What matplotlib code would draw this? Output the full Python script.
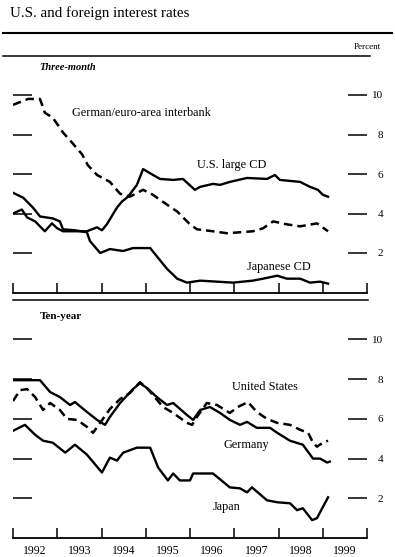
import numpy as np
import matplotlib
matplotlib.use('Agg')
import matplotlib.pyplot as plt
from matplotlib.lines import Line2D

plt.rcParams['font.family'] = ['Liberation Serif', 'DejaVu Serif']

# Three-month rates (decimal year, percent)
us_cd_t = [1992.0, 1992.2, 1992.32, 1992.5, 1992.72, 1992.88, 1993.0, 1993.13, 1993.51, 1993.67,
           1993.9, 1994.01, 1994.12, 1994.35, 1994.46, 1994.6, 1994.8, 1994.94, 1995.05, 1995.32,
           1995.62, 1995.84, 1996.11, 1996.23, 1996.52, 1996.68, 1996.9, 1997.29, 1997.74, 1997.92,
           1998.03, 1998.49, 1998.71, 1998.89, 1999.0, 1999.12]
us_cd_v = [4.0, 4.2, 3.8, 3.6, 3.1, 3.5, 3.25, 3.1, 3.1, 3.1,
           3.3, 3.15, 3.45, 4.3, 4.6, 4.85, 5.45, 6.25, 6.1, 5.75,
           5.7, 5.75, 5.2, 5.35, 5.5, 5.45, 5.6, 5.8, 5.75, 5.95,
           5.7, 5.6, 5.35, 5.2, 4.95, 4.85]

de_ib_t = [1992.0, 1992.34, 1992.61, 1992.72, 1992.9, 1993.13, 1993.33, 1993.56, 1993.69, 1993.9,
           1994.19, 1994.42, 1994.64, 1994.94, 1995.16, 1995.48, 1995.71, 1996.0, 1996.16, 1996.52,
           1996.84, 1997.42, 1997.65, 1997.88, 1998.19, 1998.49, 1998.87, 1999.12]
de_ib_v = [9.5, 9.8, 9.8, 9.1, 8.85, 8.1, 7.6, 7.0, 6.45, 5.95,
           5.6, 5.0, 4.85, 5.2, 4.95, 4.45, 4.1, 3.45, 3.2, 3.1,
           3.0, 3.1, 3.25, 3.6, 3.45, 3.35, 3.5, 3.1]

jp_cd_t = [1992.0, 1992.23, 1992.45, 1992.61, 1992.9, 1993.06, 1993.13, 1993.4, 1993.67, 1993.74,
           1993.97, 1994.19, 1994.49, 1994.71, 1995.1, 1995.28, 1995.48, 1995.71, 1995.93, 1996.23,
           1996.97, 1997.42, 1997.65, 1997.97, 1998.19, 1998.49, 1998.71, 1998.94, 1999.12]
jp_cd_v = [5.05, 4.8, 4.3, 3.85, 3.75, 3.6, 3.2, 3.15, 3.05, 2.6,
           2.0, 2.2, 2.1, 2.25, 2.25, 1.75, 1.2, 0.7, 0.5, 0.6,
           0.5, 0.6, 0.7, 0.85, 0.7, 0.7, 0.5, 0.55, 0.45]

# Ten-year rates
us_10_t = [1992.0, 1992.16, 1992.32, 1992.5, 1992.68, 1992.84, 1993.06, 1993.22, 1993.45, 1993.67,
           1993.81, 1994.19, 1994.42, 1994.64, 1994.87, 1995.03, 1995.39, 1995.62, 1995.93, 1996.05,
           1996.11, 1996.38, 1996.61, 1996.9, 1997.08, 1997.31, 1997.51, 1997.74, 1997.97, 1998.26,
           1998.49, 1998.67, 1998.78, 1998.87, 1999.0, 1999.12]
us_10_v = [6.9, 7.45, 7.5, 7.1, 6.45, 6.8, 6.45, 6.0, 5.95, 5.6,
           5.3, 6.5, 7.0, 7.3, 7.85, 7.55, 6.6, 6.3, 5.8, 5.7,
           5.95, 6.8, 6.7, 6.3, 6.6, 6.85, 6.35, 6.0, 5.8, 5.7,
           5.45, 5.3, 4.8, 4.6, 4.8, 4.9]

de_10_t = [1992.0, 1992.61, 1992.84, 1993.06, 1993.29, 1993.4, 1993.67, 1993.9, 1994.08, 1994.19,
           1994.42, 1994.71, 1994.87, 1995.03, 1995.25, 1995.48, 1995.62, 1995.93, 1996.07, 1996.23,
           1996.45, 1996.68, 1996.9, 1997.13, 1997.29, 1997.51, 1997.81, 1997.97, 1998.26, 1998.55,
           1998.78, 1998.94, 1999.1, 1999.16]
de_10_v = [7.95, 7.95, 7.35, 7.1, 6.7, 6.85, 6.35, 5.95, 5.7, 6.1,
           6.8, 7.5, 7.8, 7.55, 7.1, 6.7, 6.8, 6.2, 5.95, 6.45,
           6.6, 6.3, 5.95, 5.7, 5.85, 5.55, 5.55, 5.3, 4.9, 4.7,
           4.0, 4.0, 3.8, 3.85]

jp_10_t = [1992.0, 1992.27, 1992.5, 1992.68, 1992.9, 1993.18, 1993.4, 1993.67, 1994.01, 1994.19,
           1994.35, 1994.49, 1994.8, 1995.1, 1995.28, 1995.5, 1995.62, 1995.77, 1996.0, 1996.07,
           1996.52, 1996.9, 1997.13, 1997.29, 1997.4, 1997.74, 1997.97, 1998.26, 1998.42, 1998.55,
           1998.76, 1998.87, 1999.0, 1999.12]
jp_10_v = [5.4, 5.7, 5.2, 4.9, 4.8, 4.3, 4.7, 4.2, 3.3, 4.05,
           3.9, 4.3, 4.55, 4.55, 3.55, 2.9, 3.25, 2.9, 2.9, 3.25,
           3.25, 2.55, 2.5, 2.3, 2.55, 1.9, 1.8, 1.75, 1.4, 1.5,
           0.9, 1.0, 1.55, 2.05]

years = list(range(1992, 2000))
yticks = [2, 4, 6, 8, 10]

W, H = 395, 557
fig = plt.figure(figsize=(W / 100, H / 100), dpi=100)

def px_rect(x0, y0, x1, y1):
    # pixel box (top-left origin) -> figure fraction rect
    return [x0 / W, 1 - y1 / H, (x1 - x0) / W, (y1 - y0) / H]

def setup(ax, ytop):
    ax.set_xlim(1992, 2000)
    ax.set_ylim(0, ytop)
    for s in ['top', 'left', 'right']:
        ax.spines[s].set_visible(False)
    ax.spines['bottom'].set_linewidth(1.3)
    ax.set_xticks(range(1992, 2001))
    ax.set_xticklabels([])
    ax.tick_params(axis='x', which='major', direction='in', length=7, width=1.1)
    ax.set_xticks([y + 0.5 for y in years], minor=True)
    ax.set_xticklabels([str(y) for y in years], minor=True)
    ax.tick_params(axis='x', which='minor', length=0, pad=5, labelsize=8.5)
    ax.set_yticks(yticks)
    ax.set_yticklabels([str(v) for v in yticks])
    ax.tick_params(axis='y', direction='in', length=13.5, width=1.1, left=True, right=True,
                   labelleft=False, labelright=True, labelsize=8, pad=11.5)
    for lab in ax.get_yticklabels():
        lab.set_horizontalalignment('right')

solid = dict(color='black', lw=1.7, solid_joinstyle='round')
dashed = dict(color='black', lw=1.8, dashes=(3.4, 2.0))
lbl = dict(fontsize=8.8, va='center')

# top panel: three-month
ax1 = fig.add_axes(px_rect(13, 56, 367, 292.5))
setup(ax1, 236.5 / 19.75)
ax1.tick_params(axis='x', which='minor', labelbottom=False)
ax1.plot(jp_cd_t, jp_cd_v, **solid)
ax1.plot(us_cd_t, us_cd_v, **solid)
ax1.plot(de_ib_t, de_ib_v, **dashed)
ax1.text(0.075, 0.95, 'Three-month', transform=ax1.transAxes, fontsize=7.5,
         fontstyle='italic', fontweight='bold', va='center')
ax1.text(1993.33, 9.09, 'German/euro-area interbank', **lbl)
ax1.text(1996.16, 6.46, 'U.S. large CD', **lbl)
ax1.text(1997.29, 1.29, 'Japanese CD', **lbl)

# bottom panel: ten-year
ax2 = fig.add_axes(px_rect(13, 300, 367, 538))
setup(ax2, 238 / 19.85)
ax2.plot(jp_10_t, jp_10_v, **solid)
ax2.plot(de_10_t, de_10_v, **solid)
ax2.plot(us_10_t, us_10_v, **dashed)
ax2.text(0.075, 0.93, 'Ten-year', transform=ax2.transAxes, fontsize=8,
         fontweight='bold', va='center')
ax2.text(1996.95, 7.6, 'United States', **lbl)
ax2.text(1996.75, 4.69, 'Germany', **lbl)
ax2.text(1996.52, 1.56, 'Japan', **lbl)

# header rules and labels
def hline(y, x0, x1, lw):
    fig.add_artist(Line2D([x0 / W, x1 / W], [1 - y / H, 1 - y / H], color='black', lw=lw,
                          transform=fig.transFigure))

hline(33, 3, 392, 1.5)
hline(56, 3, 370, 1.1)
hline(300, 13, 368, 1.1)
fig.text(10 / W, 1 - 13 / H, 'U.S. and foreign interest rates', fontsize=10.8, va='center')
fig.text(381 / W, 1 - 47 / H, 'Percent', fontsize=6.5, va='center', ha='right')

fig.savefig('out.png', dpi=100)
